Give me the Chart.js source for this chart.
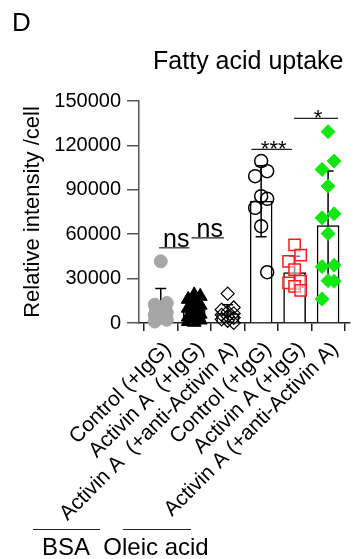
<!DOCTYPE html>
<html lang="en">
<head>
<meta charset="UTF-8" />
<title>Fatty acid uptake</title>
<script src="https://cdn.jsdelivr.net/npm/chart.js@4.4.1/dist/chart.umd.min.js"></script>
<style>
  body { margin: 0; background: #fff; }
  .wrap { position: relative; width: 359px; height: 559px; }
</style>
</head>
<body>
<div class="wrap"><canvas id="uptakeChart"></canvas></div>
<script>
  // groups on the x axis
  const groups = ['Control (+IgG)', 'Activin A  (+IgG)', 'Activin A  (+anti-Activin A)',
                  'Control (+IgG)', 'Activin A (+IgG)', 'Activin A (+anti-Activin A)'];

  // bar heights (mean) and error bars (SD)
  const means = [10600, 8700, 6400, 82300, 34000, 65900];
  const sds   = [12700, 6200, 5900, 24000, 11100, 36800];

  // individual points per group
  const bsaCtrl   = [41700, 13500, 12400, 9000, 7000, 5600, 3600, 2200, 1000];
  const bsaAct    = [19000, 18000, 16000, 14000, 12000, 10000, 8000, 6000, 4000, 3000, 2000, 1000, 500];
  const bsaAnti   = [19800, 10500, 9000, 7500, 6500, 5500, 4500, 3500, 2500, 1500, 0];
  const oleicCtrl = [109400, 102600, 99200, 85700, 83900, 77800, 65400, 34300];
  const oleicAct  = [52800, 45800, 41700, 36100, 28200, 27100, 24800, 22100];
  const oleicAnti = [129300, 109400, 103800, 92500, 73800, 71100, 60400, 39000, 38100, 28600, 28200, 16200];

  const yTicks = [0, 30000, 60000, 90000, 120000, 150000];

  // significance brackets: [from, to, y value, label]
  const brackets = [
    [-0.05, 0.86, 50800, 'ns'],
    [0.92, 1.89, 57500, 'ns'],
    [2.71, 3.92, 117300, '***'],
    [3.98, 5.30, 138300, '*']
  ];

  const FONT = "'Liberation Sans', Arial, sans-serif";

  // spread points sideways a little, like the scatter in Prism
  const spread = [0, 0.18, -0.18];
  function pts(vals, g) {
    return vals.map((v, i) => ({ x: g + spread[i % 3], y: v }));
  }

  const dotSets = [
    { data: pts(bsaCtrl, 0),   pointStyle: 'circle',   radius: 6.5, backgroundColor: '#a6a6a6', borderColor: '#a6a6a6', borderWidth: 1 },
    { data: pts(bsaAct, 1),    pointStyle: 'triangle', radius: 8,   backgroundColor: '#000', borderColor: '#000', borderWidth: 1 },
    { data: pts(bsaAnti, 2),   pointStyle: 'rectRot',  radius: 6.5, backgroundColor: 'rgba(255,255,255,0)', borderColor: '#000', borderWidth: 1.2 },
    { data: pts(oleicCtrl, 3), pointStyle: 'circle',   radius: 6.5, backgroundColor: 'rgba(255,255,255,0)', borderColor: '#000', borderWidth: 1.5 },
    { data: pts(oleicAct, 4),  pointStyle: 'rect',     radius: 8,   backgroundColor: 'rgba(255,255,255,0.5)', borderColor: '#ff1a1a', borderWidth: 1.5 },
    { data: pts(oleicAnti, 5), pointStyle: 'rectRot',  radius: 7,   backgroundColor: '#14e614', borderColor: '#14e614', borderWidth: 1 }
  ].map(d => Object.assign({ type: 'scatter', order: 0, clip: false, pointHoverRadius: d.radius }, d));

  // error bars, drawn right after the bars so the dots sit on top
  const errorBars = {
    id: 'errorBars',
    afterDatasetDraw(chart, args) {
      if (args.index !== 0) return;
      const { ctx, scales: { x, y } } = chart;
      ctx.save();
      ctx.strokeStyle = '#000';
      ctx.lineWidth = 1.5;
      means.forEach((m, i) => {
        const px = x.getPixelForValue(i);
        const top = y.getPixelForValue(m + sds[i]);
        const bot = y.getPixelForValue(Math.max(0, m - sds[i]));
        ctx.beginPath();
        ctx.moveTo(px, top); ctx.lineTo(px, bot);
        ctx.moveTo(px - 5.5, top); ctx.lineTo(px + 5.5, top);
        ctx.moveTo(px - 5.5, bot); ctx.lineTo(px + 5.5, bot);
        ctx.stroke();
      });
      ctx.restore();
    }
  };

  const annotations = {
    id: 'annotations',
    afterDraw(chart) {
      const { ctx, chartArea, scales: { x, y } } = chart;
      ctx.save();
      ctx.fillStyle = '#000';
      ctx.strokeStyle = '#222';
      ctx.lineWidth = 1.2;

      // panel letter and title
      ctx.textAlign = 'left';
      ctx.textBaseline = 'alphabetic';
      ctx.font = '26px ' + FONT;
      ctx.fillText('D', 12, 31);
      ctx.textAlign = 'center';
      ctx.font = '25px ' + FONT;
      ctx.fillText('Fatty acid uptake', (chartArea.left + chartArea.right) / 2 + 4, 69);

      // significance brackets
      brackets.forEach(([a, b, v, label]) => {
        const yy = y.getPixelForValue(v);
        ctx.beginPath();
        ctx.moveTo(x.getPixelForValue(a), yy);
        ctx.lineTo(x.getPixelForValue(b), yy);
        ctx.stroke();
        const stars = label.includes('*');
        ctx.font = (stars ? '22px ' : '25px ') + FONT;
        const cx = (x.getPixelForValue(a) + x.getPixelForValue(b)) / 2;
        ctx.fillText(label, cx + 2, stars ? yy + 7 : yy - 1);
      });

      // group labels under the axis
      ctx.lineWidth = 1;
      ctx.beginPath();
      ctx.moveTo(33, 529.5); ctx.lineTo(100, 529.5);
      ctx.moveTo(123, 529.5); ctx.lineTo(191, 529.5);
      ctx.stroke();
      ctx.font = '24px ' + FONT;
      ctx.fillText('BSA', 66, 555);
      ctx.fillText('Oleic acid', 156, 555);
      ctx.restore();
    }
  };

  new Chart(document.getElementById('uptakeChart'), {
    type: 'bar',
    data: {
      datasets: [
        {
          order: 10,
          data: means.map((m, i) => ({ x: i, y: m })),
          backgroundColor: '#fff',
          borderColor: '#000',
          borderWidth: 1.5,
          barThickness: 22
        },
        ...dotSets
      ]
    },
    options: {
      responsive: true,
      maintainAspectRatio: false,
      animation: false,
      layout: { padding: { top: 101, right: 0, left: 0, bottom: 0 } },
      plugins: { legend: { display: false }, tooltip: { enabled: false } },
      scales: {
        x: {
          type: 'linear',
          offset: false,
          min: -0.65,
          max: 5.64,
          afterFit: s => { s.height = 236; s.paddingLeft = 0; s.paddingRight = 0; },
          grid: { display: true, drawOnChartArea: false, drawTicks: true, tickLength: 8, color: '#222', lineWidth: 1.5 },
          border: { display: true, color: '#222', width: 1.5 },
          ticks: {
            stepSize: 1,
            includeBounds: false,
            autoSkip: false,
            maxRotation: 45,
            minRotation: 45,
            padding: 6,
            labelOffset: 7,
            color: '#000',
            font: { family: FONT, size: 21 },
            callback: v => Number.isInteger(v) ? groups[v] : ''
          }
        },
        y: {
          min: 0,
          max: 150000,
          afterFit: s => { s.width = 139; s.paddingTop = 0; s.paddingBottom = 0; },
          afterBuildTicks: s => { s.ticks = yTicks.map(v => ({ value: v })); },
          grid: { display: true, drawOnChartArea: false, drawTicks: true, tickLength: 12, color: '#555', lineWidth: 1.5 },
          border: { display: true, color: '#555', width: 1.5 },
          ticks: { padding: 6, color: '#000', font: { family: FONT, size: 20 }, callback: v => String(v) },
          title: {
            display: true,
            text: 'Relative intensity /cell',
            color: '#000',
            font: { family: FONT, size: 22 },
            padding: { top: 20, bottom: 0 }
          }
        }
      }
    },
    plugins: [errorBars, annotations]
  });
</script>
</body>
</html>
